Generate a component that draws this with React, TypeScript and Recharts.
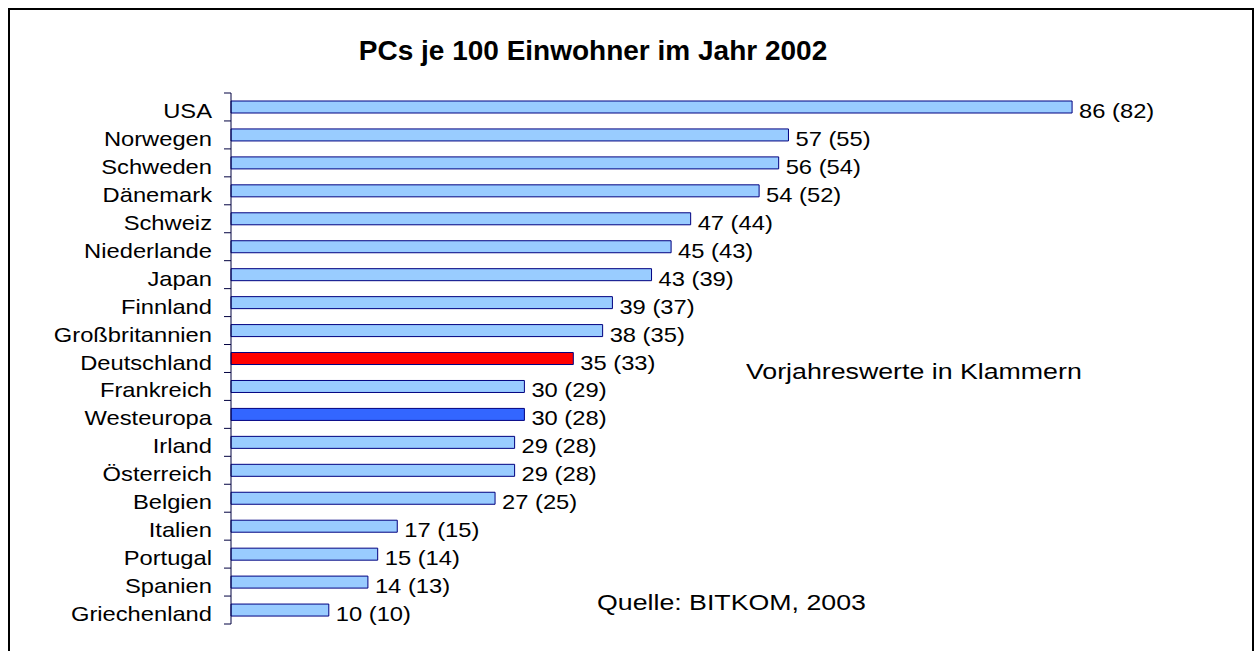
import React from "react";
import { BarChart, Bar, XAxis, YAxis, Cell, LabelList } from "recharts";

const countries = [
  "USA", "Norwegen", "Schweden", "Dänemark", "Schweiz", "Niederlande", "Japan",
  "Finnland", "Großbritannien", "Deutschland", "Frankreich", "Westeuropa", "Irland",
  "Österreich", "Belgien", "Italien", "Portugal", "Spanien", "Griechenland",
];
const values2002 = [86, 57, 56, 54, 47, 45, 43, 39, 38, 35, 30, 30, 29, 29, 27, 17, 15, 14, 10];
const values2001 = [82, 55, 54, 52, 44, 43, 39, 37, 35, 33, 29, 28, 28, 28, 25, 15, 14, 13, 10];
const highlight: Record<string, string> = { Deutschland: "#FF0000", Westeuropa: "#3366FF" };

const data = countries.map((c, i) => ({ name: c, value: values2002[i], prev: values2001[i] }));

const FONT = "Arial, 'Liberation Sans', sans-serif";
const CHART_W = 1242;
const CHART_H = 633;
const MARGIN = { top: 83, right: 43, bottom: 19, left: 0 };
const BAND = (CHART_H - MARGIN.top - MARGIN.bottom) / countries.length;
const AXIS_COLOR = "#000040";
const LABEL_SIZE = 21;
const LABEL_STRETCH = 1.13;

const CategoryTick = (props: any) => {
  const { x, y, payload, index } = props;
  return (
    <g>
      <line x1={x - 7} x2={x} y1={y - BAND / 2} y2={y - BAND / 2} stroke={AXIS_COLOR} strokeWidth={1} />
      {index === countries.length - 1 && (
        <line x1={x - 7} x2={x} y1={y + BAND / 2} y2={y + BAND / 2} stroke={AXIS_COLOR} strokeWidth={1} />
      )}
      <g transform={`translate(${x - 19}, ${y + 11}) scale(${LABEL_STRETCH}, 1)`}>
        <text x={0} y={0} textAnchor="end" fontFamily={FONT} fontSize={LABEL_SIZE} fill="#000">
          {payload.value}
        </text>
      </g>
    </g>
  );
};

const ValueLabel = (props: any) => {
  const { x, y, width, height, index } = props;
  return (
    <g transform={`translate(${x + width + 7}, ${y + height / 2 + 11}) scale(${LABEL_STRETCH}, 1)`}>
      <text x={0} y={0} fontFamily={FONT} fontSize={LABEL_SIZE} fill="#000">
        {`${values2002[index]} (${values2001[index]})`}
      </text>
    </g>
  );
};

const noteStyle: React.CSSProperties = {
  position: "absolute",
  fontSize: 22,
  lineHeight: "26px",
  whiteSpace: "nowrap",
  transform: "scaleX(1.215)",
  transformOrigin: "left center",
};

export default function App() {
  return (
    <div
      style={{
        position: "absolute",
        left: 8,
        top: 8,
        width: 1246,
        height: 643,
        boxSizing: "border-box",
        borderTop: "2px solid #000",
        borderLeft: "2px solid #000",
        borderRight: "2px solid #000",
        background: "#fff",
        fontFamily: FONT,
        overflow: "hidden",
      }}
    >
      <BarChart width={CHART_W} height={CHART_H} data={data} layout="vertical" margin={MARGIN}>
        <XAxis type="number" domain={[0, 100]} hide />
        <YAxis
          type="category"
          dataKey="name"
          width={221}
          tickSize={0}
          tickMargin={0}
          tickLine={false}
          axisLine={{ stroke: AXIS_COLOR, strokeWidth: 1 }}
          tick={<CategoryTick />}
          interval={0}
        />
        <Bar dataKey="value" barSize={12} stroke="#000080" strokeWidth={1} isAnimationActive={false}>
          {data.map((d) => (
            <Cell key={d.name} fill={highlight[d.name] ?? "#99CCFF"} />
          ))}
          <LabelList dataKey="value" content={<ValueLabel />} />
        </Bar>
      </BarChart>
      <div
        style={{
          position: "absolute",
          left: 0,
          top: 25,
          width: 1166,
          textAlign: "center",
          fontSize: 28,
          fontWeight: "bold",
          lineHeight: "32px",
          whiteSpace: "nowrap",
        }}
      >
        PCs je 100 Einwohner im Jahr 2002
      </div>
      <div style={{ ...noteStyle, left: 736, top: 349 }}>Vorjahreswerte in Klammern</div>
      <div style={{ ...noteStyle, left: 587, top: 580 }}>Quelle: BITKOM, 2003</div>
    </div>
  );
}
